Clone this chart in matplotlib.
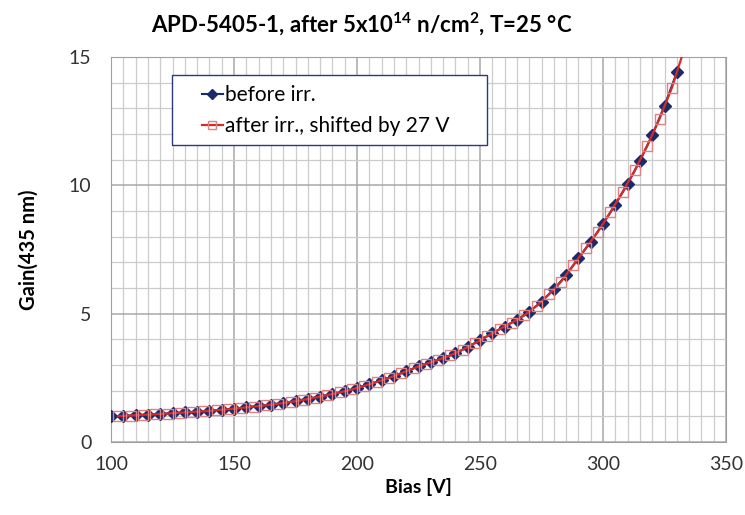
import matplotlib
matplotlib.use('Agg')
import matplotlib.pyplot as plt
from matplotlib.ticker import MultipleLocator
from matplotlib.patches import Rectangle

plt.rcParams['font.family'] = ['Lato', 'DejaVu Sans']
plt.rcParams['mathtext.fontset'] = 'custom'
plt.rcParams['mathtext.rm'] = 'Lato'
plt.rcParams['mathtext.bf'] = 'Lato:bold'

# before irradiation, measured every 5 V
bias_before = list(range(100, 335, 5))
gain_before = [1.00, 1.02, 1.04, 1.07, 1.09, 1.12, 1.15, 1.18, 1.22, 1.26,
               1.30, 1.35, 1.40, 1.46, 1.52, 1.60, 1.68, 1.77, 1.87, 1.98,
               2.10, 2.25, 2.40, 2.57, 2.75, 2.95, 3.10, 3.27, 3.45, 3.70,
               3.97, 4.24, 4.50, 4.77, 5.07, 5.47, 5.95, 6.50, 7.15, 7.80,
               8.50, 9.25, 10.05, 10.95, 11.95, 13.10, 14.40]

# after irradiation, bias shifted by 27 V
bias_after = list(range(103, 338, 5))
gain_after = [1.01, 1.03, 1.06, 1.08, 1.11, 1.14, 1.17, 1.20, 1.24, 1.28,
              1.33, 1.38, 1.43, 1.49, 1.56, 1.64, 1.73, 1.83, 1.93, 2.05,
              2.19, 2.34, 2.50, 2.68, 2.87, 3.04, 3.20, 3.38, 3.60, 3.85,
              4.12, 4.40, 4.65, 4.93, 5.30, 5.75, 6.25, 6.90, 7.55, 8.20,
              8.95, 9.75, 10.60, 11.55, 12.60, 13.80, 15.30]

W, H = 745, 515
fig = plt.figure(figsize=(W / 100, H / 100), dpi=100)
ax = fig.add_axes([111 / W, 1 - 442 / H, 615 / W, 385 / H])

ax.plot(bias_before, gain_before, color='#1b2a6b', lw=1.5, marker='D',
        ms=6, mfc='#1b2a6b', mec='#1b2a6b', label='before irr.', zorder=3)
ax.plot(bias_after, gain_after, color='#d42a2a', lw=1.6, marker='s',
        ms=7, mfc='none', mec='#e08080', mew=1.0,
        label='after irr., shifted by 27 V', zorder=4)

ax.set_xlim(100, 350)
ax.set_ylim(0, 15)
ax.xaxis.set_major_locator(MultipleLocator(50))
ax.xaxis.set_minor_locator(MultipleLocator(5))
ax.yaxis.set_major_locator(MultipleLocator(5))
ax.yaxis.set_minor_locator(MultipleLocator(1))
ax.grid(which='major', color='#a8a8a8', lw=1.1)
ax.grid(which='minor', color='#cccccc', lw=0.9)
ax.set_axisbelow(True)
ax.tick_params(which='both', length=0, labelsize=14, colors='#333333')
ax.tick_params(axis='x', pad=10)
ax.tick_params(axis='y', pad=14)
for s in ax.spines.values():
    s.set_color('#a0a0a0')

ax.set_xlabel('Bias [V]', fontsize=14, fontweight='bold', labelpad=4)
ax.set_ylabel('Gain(435 nm)', fontsize=14.5, fontweight='bold', labelpad=22)
fig.text(362 / W, 1 - 24 / H,
         r'APD-5405-1, after 5x10$^{\mathbf{14}}$ n/cm$^{\mathbf{2}}$, T=25 °C',
         fontsize=16, fontweight='bold', ha='center', va='center')

# legend box (Excel style, wide frame)
fig.patches.append(Rectangle((172 / W, 1 - 145 / H), 315 / W, 70 / H,
                             transform=fig.transFigure, facecolor='white',
                             edgecolor='#2a3a7a', lw=1.0, zorder=5))
leg = fig.legend(loc='upper left', bbox_to_anchor=(202 / W, 1 - 85 / H),
                 fontsize=15, frameon=False, handlelength=1.0,
                 handletextpad=0.1, borderpad=0, labelspacing=0.55,
                 borderaxespad=0, markerscale=0.85)
leg.set_zorder(6)

fig.savefig('out.png', dpi=100)
